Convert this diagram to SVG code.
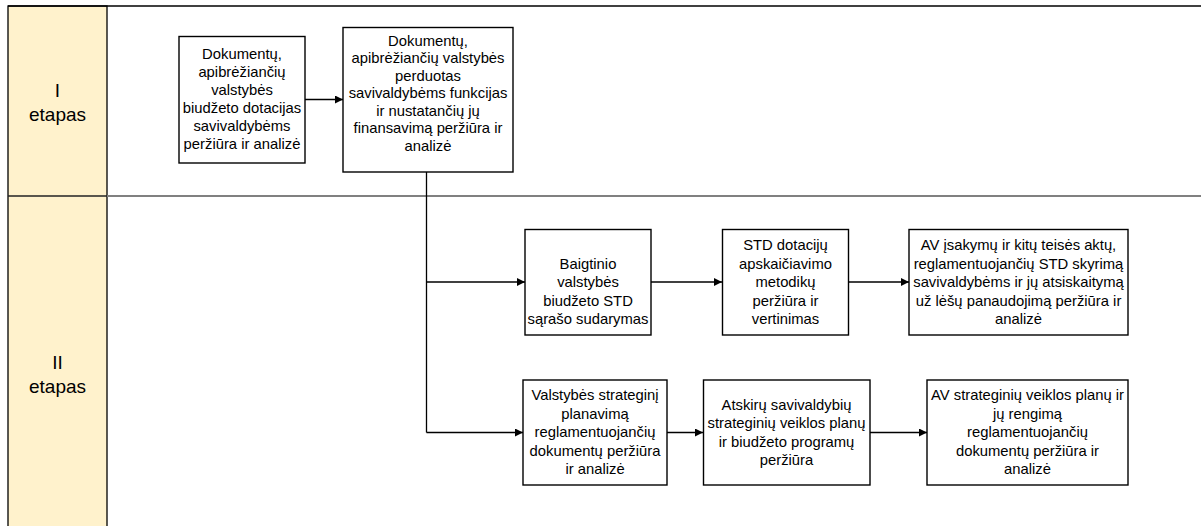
<svg xmlns="http://www.w3.org/2000/svg" width="1201" height="526" viewBox="0 0 1201 526">
<style>
.box{fill:#fff;stroke:#000;stroke-width:1.4}
.t{font-family:"Liberation Sans",Arial,sans-serif;font-size:14.8px;fill:#000;text-anchor:middle}
.lt{font-family:"Liberation Sans",Arial,sans-serif;font-size:19px;fill:#000;text-anchor:middle}
.c{fill:none;stroke:#000;stroke-width:1.3}
</style>
<defs>
<marker id="ah" viewBox="0 0 10 10" refX="10" refY="5" markerWidth="9" markerHeight="8" markerUnits="userSpaceOnUse" orient="auto">
<path d="M0,0 L10,5 L0,10 z" fill="#000"/>
</marker>
</defs>
<rect width="1201" height="526" fill="#fff"/>
<g id="lanes">
<rect x="8" y="6" width="99" height="530" fill="#FFF2CC" stroke="#000" stroke-width="1.3"/>
<line x1="8" y1="6" x2="1201" y2="6" stroke="#000" stroke-width="1.5"/>
<line x1="107" y1="196" x2="1201" y2="196" stroke="#808080" stroke-width="2"/>
<line x1="8" y1="196" x2="107" y2="196" stroke="#222" stroke-width="1.5"/>
<text class="lt" x="57.5" y="97">I</text>
<text class="lt" x="57.5" y="121">etapas</text>
<text class="lt" x="57.5" y="369">II</text>
<text class="lt" x="57.5" y="393">etapas</text>
</g>
<g id="connectors">
<line class="c" x1="305" y1="99.5" x2="343" y2="99.5" marker-end="url(#ah)"/>
<line class="c" x1="426.5" y1="172" x2="426.5" y2="432.5"/>
<line class="c" x1="426.5" y1="282" x2="525" y2="282" marker-end="url(#ah)"/>
<line class="c" x1="651" y1="282" x2="722" y2="282" marker-end="url(#ah)"/>
<line class="c" x1="848" y1="282" x2="909" y2="282" marker-end="url(#ah)"/>
<line class="c" x1="426.5" y1="432.5" x2="523" y2="432.5" marker-end="url(#ah)"/>
<line class="c" x1="667" y1="432.5" x2="703" y2="432.5" marker-end="url(#ah)"/>
<line class="c" x1="870" y1="432.5" x2="927" y2="432.5" marker-end="url(#ah)"/>
</g>
<g id="n1">
<rect class="box" x="179" y="36.5" width="126" height="126.5"/>
<text class="t" x="242"><tspan x="242" y="58.5">Dokumentų,</tspan><tspan x="242" y="76.5">apibrėžiančių</tspan><tspan x="242" y="94.5">valstybės</tspan><tspan x="242" y="112.5">biudžeto dotacijas</tspan><tspan x="242" y="130.5">savivaldybėms</tspan><tspan x="242" y="148.5">peržiūra ir analizė</tspan></text>
</g>
<g id="n2">
<rect class="box" x="343" y="27.5" width="170" height="144.5"/>
<text class="t" x="428"><tspan x="428" y="45.5">Dokumentų,</tspan><tspan x="428" y="63">apibrėžiančių valstybės</tspan><tspan x="428" y="80.5">perduotas</tspan><tspan x="428" y="98">savivaldybėms funkcijas</tspan><tspan x="428" y="115.5">ir nustatančių jų</tspan><tspan x="428" y="133">finansavimą peržiūra ir</tspan><tspan x="428" y="150.5">analizė</tspan></text>
</g>
<g id="n3">
<rect class="box" x="525" y="229.5" width="126" height="105.5"/>
<text class="t" x="588"><tspan x="588" y="268.5">Baigtinio</tspan><tspan x="588" y="287">valstybės</tspan><tspan x="588" y="305.5">biudžeto STD</tspan><tspan x="588" y="324">sąrašo sudarymas</tspan></text>
</g>
<g id="n4">
<rect class="box" x="722.5" y="229.5" width="126" height="105.5"/>
<text class="t" x="785.5"><tspan x="785.5" y="250">STD dotacijų</tspan><tspan x="785.5" y="268.5">apskaičiavimo</tspan><tspan x="785.5" y="287">metodikų</tspan><tspan x="785.5" y="305.5">peržiūra ir</tspan><tspan x="785.5" y="324">vertinimas</tspan></text>
</g>
<g id="n5">
<rect class="box" x="909" y="229.5" width="219" height="105.5"/>
<text class="t" x="1018.5"><tspan x="1018.5" y="250">AV įsakymų ir kitų teisės aktų,</tspan><tspan x="1018.5" y="268.5">reglamentuojančių STD skyrimą</tspan><tspan x="1018.5" y="287">savivaldybėms ir jų atsiskaitymą</tspan><tspan x="1018.5" y="305.5">už lėšų panaudojimą peržiūra ir</tspan><tspan x="1018.5" y="324">analizė</tspan></text>
</g>
<g id="n6">
<rect class="box" x="523" y="380" width="144" height="105"/>
<text class="t" x="595"><tspan x="595" y="400">Valstybės strateginį</tspan><tspan x="595" y="418.5">planavimą</tspan><tspan x="595" y="437">reglamentuojančių</tspan><tspan x="595" y="455.5">dokumentų peržiūra</tspan><tspan x="595" y="474">ir analizė</tspan></text>
</g>
<g id="n7">
<rect class="box" x="703.5" y="380" width="166.5" height="105"/>
<text class="t" x="786.5"><tspan x="786.5" y="409.5">Atskirų savivaldybių</tspan><tspan x="786.5" y="428">strateginių veiklos planų</tspan><tspan x="786.5" y="446.5">ir biudžeto programų</tspan><tspan x="786.5" y="465">peržiūra</tspan></text>
</g>
<g id="n8">
<rect class="box" x="927" y="380" width="201" height="105"/>
<text class="t" x="1027.5"><tspan x="1027.5" y="400">AV strateginių veiklos planų ir</tspan><tspan x="1027.5" y="418.5">jų rengimą</tspan><tspan x="1027.5" y="437">reglamentuojančių</tspan><tspan x="1027.5" y="455.5">dokumentų  peržiūra ir</tspan><tspan x="1027.5" y="474">analizė</tspan></text>
</g>
</svg>
